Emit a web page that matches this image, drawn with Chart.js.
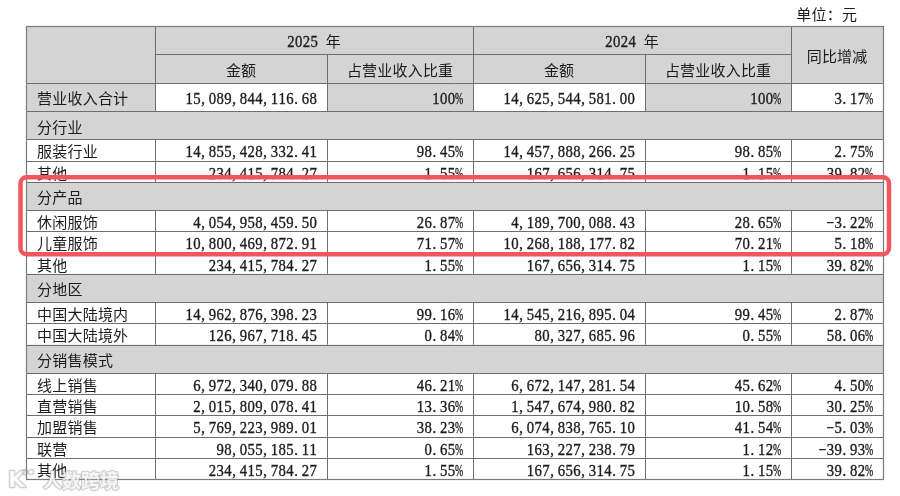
<!DOCTYPE html>
<html><head><meta charset="utf-8">
<script src="https://cdn.jsdelivr.net/npm/chart.js@4.4.1/dist/chart.umd.min.js"></script>
<style>html,body{margin:0;padding:0;background:#fff;}canvas{display:block;}</style>
</head><body>
<canvas id="c" width="900" height="496"></canvas>
<script>
// ---- data ----
const unitLabel = '单位：元';
const yearLabels = ['2025 年', '2024 年'];
const columnLabels = ['金额', '占营业收入比重', '金额', '占营业收入比重'];
const changeLabel = '同比增减';
const rowLabels = ['营业收入合计','分行业','服装行业','其他','分产品','休闲服饰','儿童服饰','其他','分地区','中国大陆境内','中国大陆境外','分销售模式','线上销售','直营销售','加盟销售','联营','其他'];
const rowKinds = ['total','section','item','item','section','item','item','item','section','item','item','section','item','item','item','item','item'];
const amount2025 = [15089844116.68, null, 14855428332.41, 234415784.27, null, 4054958459.50, 10800469872.91, 234415784.27, null, 14962876398.23, 126967718.45, null, 6972340079.88, 2015809078.41, 5769223989.01, 98055185.11, 234415784.27];
const share2025 = [100, null, 98.45, 1.55, null, 26.87, 71.57, 1.55, null, 99.16, 0.84, null, 46.21, 13.36, 38.23, 0.65, 1.55];
const amount2024 = [14625544581.00, null, 14457888266.25, 167656314.75, null, 4189700088.43, 10268188177.82, 167656314.75, null, 14545216895.04, 80327685.96, null, 6672147281.54, 1547674980.82, 6074838765.10, 163227238.79, 167656314.75];
const share2024 = [100, null, 98.85, 1.15, null, 28.65, 70.21, 1.15, null, 99.45, 0.55, null, 45.62, 10.58, 41.54, 1.12, 1.15];
const yoyChange = [3.17, null, 2.75, 39.82, null, -3.22, 5.18, 39.82, null, 2.87, 58.06, null, 4.50, 30.25, -5.03, -39.93, 39.82];
const highlightFrom = '分产品';
const highlightTo = '儿童服饰';
const watermarkText = '人数跨境';

// ---- layout (positions/sizes/styles kept apart from data) ----
const LAYOUT = {
  colWidths: [129, 172, 146, 172, 146, 92],
  headerHeights: [28, 29],
  rowHeight: { total: 28, section: 28.5, item: 21.17 },
  pad: { left: 26, top: 26, right: 17, bottom: 17 },
  gray: '#d4d4d4', line: '#6e6e6e', text: '#1c1c1c', red: '#f0565b'
};
const colEdges = LAYOUT.colWidths.reduce((a, w) => { a.push(a[a.length - 1] + w); return a; }, [0]);
const headerTotal = LAYOUT.headerHeights[0] + LAYOUT.headerHeights[1];
const rowTops = [];
let acc = headerTotal;
rowKinds.forEach(k => { rowTops.push(acc); acc += LAYOUT.rowHeight[k]; });
const tableHeight = acc;
const tableWidth = colEdges[colEdges.length - 1];

const fmtAmount = v => new Intl.NumberFormat('en-US', { minimumFractionDigits: 2, maximumFractionDigits: 2 }).format(v);
const fmtShare = v => (v === 100 ? '100' : v.toFixed(2)) + '%';
const fmtChange = v => v.toFixed(2) + '%';

const ASCII_PITCH = 7.75, CJK_PITCH = 15.2;
function textWidth(str) {
  return Array.from(str).reduce((s, c) => s + (c.charCodeAt(0) < 128 ? ASCII_PITCH : CJK_PITCH), 0);
}
function drawText(ctx, str, x, y, align, color) {
  const total = textWidth(str);
  let cx = align === 'right' ? x - total : align === 'center' ? x - total / 2 : x;
  ctx.fillStyle = color || LAYOUT.text;
  ctx.strokeStyle = color || LAYOUT.text;
  ctx.textBaseline = 'alphabetic';
  for (const c of Array.from(str)) {
    const ascii = c.charCodeAt(0) < 128;
    if (ascii) {
      const g = c === '-' ? '\u2212' : c;
      ctx.font = '16px "Liberation Serif", "DejaVu Serif", serif';
      const w = ctx.measureText(g).width || 1;
      const sx = c === '%' ? 0.62 : Math.min(0.92, (ASCII_PITCH * 0.97) / w);
      ctx.save();
      if (c === ',' || c === '.') {
        ctx.translate(cx + 0.6, y); ctx.scale(sx, 1); ctx.textAlign = 'left';
      } else {
        ctx.translate(cx + ASCII_PITCH / 2, y); ctx.scale(sx, 1); ctx.textAlign = 'center';
      }
      ctx.fillText(g, 0, 0);
      ctx.lineWidth = 0.35;
      ctx.strokeText(g, 0, 0);
      ctx.restore();
      cx += ASCII_PITCH;
    } else {
      ctx.font = '15px "Noto Sans CJK SC", sans-serif';
      ctx.textAlign = 'center';
      ctx.fillText(c, cx + CJK_PITCH / 2, y);
      cx += CJK_PITCH;
    }
  }
}

const tablePlugin = {
  id: 'tablePlugin',
  afterDraw(chart) {
    const ctx = chart.ctx;
    const xs = chart.scales.x, ys = chart.scales.y;
    const X = v => xs.getPixelForValue(v), Y = v => ys.getPixelForValue(v);
    const snap = p => Math.round(p) + 0.5;
    const baseOff = 7.4;
    ctx.save();

    // unit label
    drawText(ctx, unitLabel, X(colEdges[6]) - 26, Y(0) - 12 + 5.5, 'right');

    // fills
    const fillRect = (x0, x1, y0, y1, col) => {
      ctx.fillStyle = col;
      ctx.fillRect(X(x0), Y(y0), X(x1) - X(x0), Y(y1) - Y(y0));
    };
    fillRect(0, tableWidth, 0, headerTotal, LAYOUT.gray);
    rowKinds.forEach((k, i) => {
      const t = rowTops[i], b = t + LAYOUT.rowHeight[k];
      if (k === 'section') fillRect(0, tableWidth, t, b, LAYOUT.gray);
      else if (k === 'total') {
        [0, 2, 4].forEach(c => fillRect(colEdges[c], colEdges[c + 1], t, b, LAYOUT.gray));
      }
    });

    // lines
    ctx.strokeStyle = LAYOUT.line;
    ctx.lineWidth = 1;
    const hLine = (x0, x1, yv) => { ctx.beginPath(); ctx.moveTo(X(x0), snap(Y(yv))); ctx.lineTo(X(x1), snap(Y(yv))); ctx.stroke(); };
    const vLine = (xv, y0, y1) => { ctx.beginPath(); ctx.moveTo(snap(X(xv)), Y(y0)); ctx.lineTo(snap(X(xv)), Y(y1)); ctx.stroke(); };
    hLine(colEdges[1], colEdges[5], LAYOUT.headerHeights[0]);
    [1, 3, 5].forEach(c => vLine(colEdges[c], 0, headerTotal));
    [2, 4].forEach(c => vLine(colEdges[c], LAYOUT.headerHeights[0], headerTotal));
    rowKinds.forEach((k, i) => {
      const t = rowTops[i], b = t + LAYOUT.rowHeight[k];
      hLine(0, tableWidth, t);
      if (k !== 'section') [1, 2, 3, 4, 5].forEach(c => vLine(colEdges[c], t, b));
    });
    ctx.strokeStyle = '#7a7a7a';
    ctx.lineWidth = 1.2;
    ctx.strokeRect(snap(X(0)), snap(Y(0)), Math.round(X(tableWidth) - X(0)), Math.round(Y(tableHeight) - Y(0)));

    // header texts
    const mid = (a, b) => (a + b) / 2;
    const h0 = LAYOUT.headerHeights[0];
    drawText(ctx, yearLabels[0], X(mid(colEdges[1], colEdges[3])), Y(h0 / 2) + baseOff, 'center');
    drawText(ctx, yearLabels[1], X(mid(colEdges[3], colEdges[5])), Y(h0 / 2) + baseOff, 'center');
    columnLabels.forEach((l, i) => drawText(ctx, l, X(mid(colEdges[i + 1], colEdges[i + 2])), Y(mid(h0, headerTotal)) + baseOff, 'center'));
    drawText(ctx, changeLabel, X(mid(colEdges[5], colEdges[6])), Y(headerTotal / 2) + baseOff, 'center');

    // body texts
    rowKinds.forEach((k, i) => {
      const yc = Y(rowTops[i] + LAYOUT.rowHeight[k] / 2) + baseOff;
      drawText(ctx, rowLabels[i], X(colEdges[0]) + 11, yc, 'left');
      if (k === 'section') return;
      const vals = [fmtAmount(amount2025[i]), fmtShare(share2025[i]), fmtAmount(amount2024[i]), fmtShare(share2024[i]), fmtChange(yoyChange[i])];
      vals.forEach((v, c) => drawText(ctx, v, X(colEdges[c + 2]) - 10, yc, 'right'));
    });

    // highlight box
    const r0 = rowLabels.indexOf(highlightFrom), r1 = rowLabels.indexOf(highlightTo);
    const bx0 = X(-5.5), bx1 = X(tableWidth + 6);
    const by0 = Y(rowTops[r0]) - 4.5, by1 = Y(rowTops[r1] + LAYOUT.rowHeight[rowKinds[r1]]) + 1.5;
    ctx.strokeStyle = LAYOUT.red;
    ctx.lineWidth = 4.5;
    ctx.beginPath();
    if (ctx.roundRect) ctx.roundRect(bx0, by0, bx1 - bx0, by1 - by0, 6);
    else ctx.rect(bx0, by0, bx1 - bx0, by1 - by0);
    ctx.stroke();

    // watermark
    ctx.globalAlpha = 0.85;
    ctx.lineJoin = 'round';
    ctx.font = 'bold 19px "Noto Sans CJK SC", sans-serif';
    ctx.textAlign = 'left';
    ctx.textBaseline = 'middle';
    ctx.strokeStyle = 'rgba(150,150,150,0.5)';
    ctx.lineWidth = 2.5;
    ctx.strokeText(watermarkText, 43, 481);
    ctx.fillStyle = 'rgba(255,255,255,0.92)';
    ctx.fillText(watermarkText, 43, 481);
    ctx.font = 'bold 22px "DejaVu Sans", sans-serif';
    ctx.strokeText('K', 8, 481);
    ctx.fillText('K', 8, 481);
    ctx.lineWidth = 1.5;
    [[25, 472], [31, 472]].forEach(([cx, cy]) => { ctx.beginPath(); ctx.arc(cx, cy, 2.6, 0, Math.PI * 2); ctx.stroke(); });
    ctx.restore();
  }
};

new Chart(document.getElementById('c'), {
  type: 'scatter',
  data: { datasets: [{ data: [], pointRadius: 0 }] },
  options: {
    responsive: false,
    animation: false,
    devicePixelRatio: 1,
    layout: { padding: LAYOUT.pad },
    plugins: { legend: { display: false }, tooltip: { enabled: false }, title: { display: false } },
    scales: {
      x: { type: 'linear', display: false, min: 0, max: tableWidth },
      y: { type: 'linear', display: false, min: 0, max: tableHeight, reverse: true }
    }
  },
  plugins: [tablePlugin]
});
</script>
</body></html>
